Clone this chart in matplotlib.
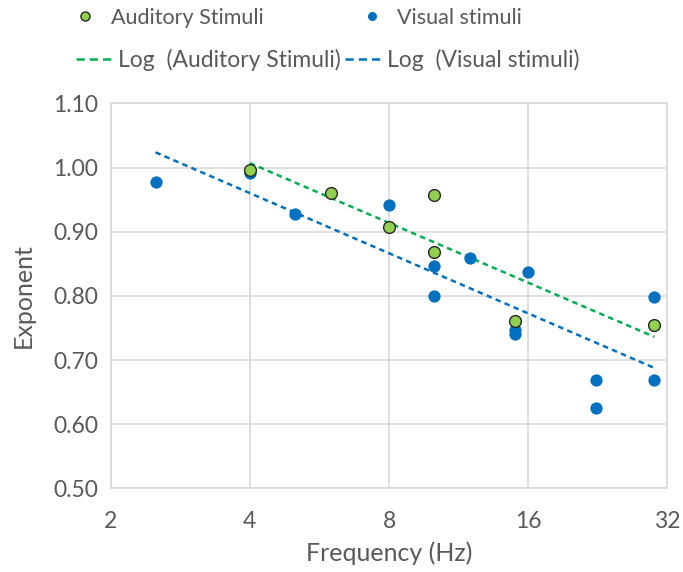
import numpy as np
import matplotlib.pyplot as plt
from matplotlib.lines import Line2D

plt.rcParams['font.family'] = ['Lato', 'DejaVu Sans']

aud_freq = [4, 6, 8, 10, 10, 15, 30]
aud_exp = [0.996, 0.961, 0.907, 0.957, 0.869, 0.761, 0.755]

vis_freq = [2.5, 4, 5, 8, 10, 10, 12, 16, 15, 15, 22.4, 22.4, 30, 30]
vis_exp = [0.978, 0.991, 0.928, 0.941, 0.846, 0.800, 0.859, 0.837,
           0.747, 0.741, 0.669, 0.626, 0.798, 0.669]

x_ticks = [2, 4, 8, 16, 32]
y_ticks = [0.50, 0.60, 0.70, 0.80, 0.90, 1.00, 1.10]

text_col = '#595959'
grid_col = '#d9d9d9'
green_line = '#00B050'
green_fill = '#92D050'
blue = '#0070C0'


def log_fit(x, y):
    x = np.array(x, dtype=float)
    a, b = np.polyfit(np.log(x), y, 1)
    xs = np.linspace(x.min(), x.max(), 100)
    return xs, a * np.log(xs) + b


fig = plt.figure(figsize=(6.83, 5.72), dpi=100)
ax = fig.add_axes([0.1621, 0.146, 0.977 - 0.1621, 0.8194 - 0.146])

ax.set_xscale('log', base=2)
ax.set_xlim(2, 32)
ax.set_ylim(0.5, 1.1)
ax.set_xticks(x_ticks)
ax.set_xticklabels([str(t) for t in x_ticks])
ax.minorticks_off()
ax.set_yticks(y_ticks)
ax.set_yticklabels(['%.2f' % t for t in y_ticks])
ax.grid(True, color=grid_col, lw=1.2)
ax.set_axisbelow(True)
for s in ax.spines.values():
    s.set_color(grid_col)
    s.set_linewidth(1.2)
ax.tick_params(length=0, labelsize=16.5, colors=text_col)
ax.tick_params(axis='x', pad=16)
ax.tick_params(axis='y', pad=9)

xs, ys = log_fit(aud_freq, aud_exp)
ax.plot(xs, ys, color=green_line, lw=1.8, dashes=(2.2, 1.7))
xs, ys = log_fit(vis_freq, vis_exp)
ax.plot(xs, ys, color=blue, lw=1.8, dashes=(2.2, 1.7))

ax.scatter(vis_freq, vis_exp, s=78, color=blue, zorder=3, linewidths=0)
ax.scatter(aud_freq, aud_exp, s=72, color=green_fill, edgecolors='#262626',
           linewidths=1.0, zorder=4)

ax.set_xlabel('Frequency (Hz)', fontsize=18, color=text_col, labelpad=7)
ax.set_ylabel('Exponent', fontsize=18, color=text_col, labelpad=13)

h1 = [Line2D([], [], ls='none', marker='o', ms=6.5, mfc=green_fill, mec='#262626', mew=1.0),
      Line2D([], [], ls='none', marker='o', ms=6.5, mfc=blue, mec=blue, mew=0)]
fig.legend(h1, ['Auditory Stimuli', 'Visual stimuli'], ncol=2, loc='center',
           bbox_to_anchor=(0.437, 0.969), frameon=False, fontsize=15.5,
           handlelength=1.0, handletextpad=0.7, columnspacing=4.5,
           labelcolor=text_col)
h2 = [Line2D([], [], color=green_line, lw=1.8, dashes=(3.3, 2.0)),
      Line2D([], [], color=blue, lw=1.8, dashes=(3.3, 2.0))]
fig.legend(h2, ['Log  (Auditory Stimuli)', 'Log  (Visual stimuli)'], ncol=2,
           loc='center', bbox_to_anchor=(0.48, 0.895), frameon=False,
           fontsize=16.5, handlelength=1.7, handletextpad=0.15,
           columnspacing=0.15, labelcolor=text_col)

fig.savefig('out.png', dpi=100)
